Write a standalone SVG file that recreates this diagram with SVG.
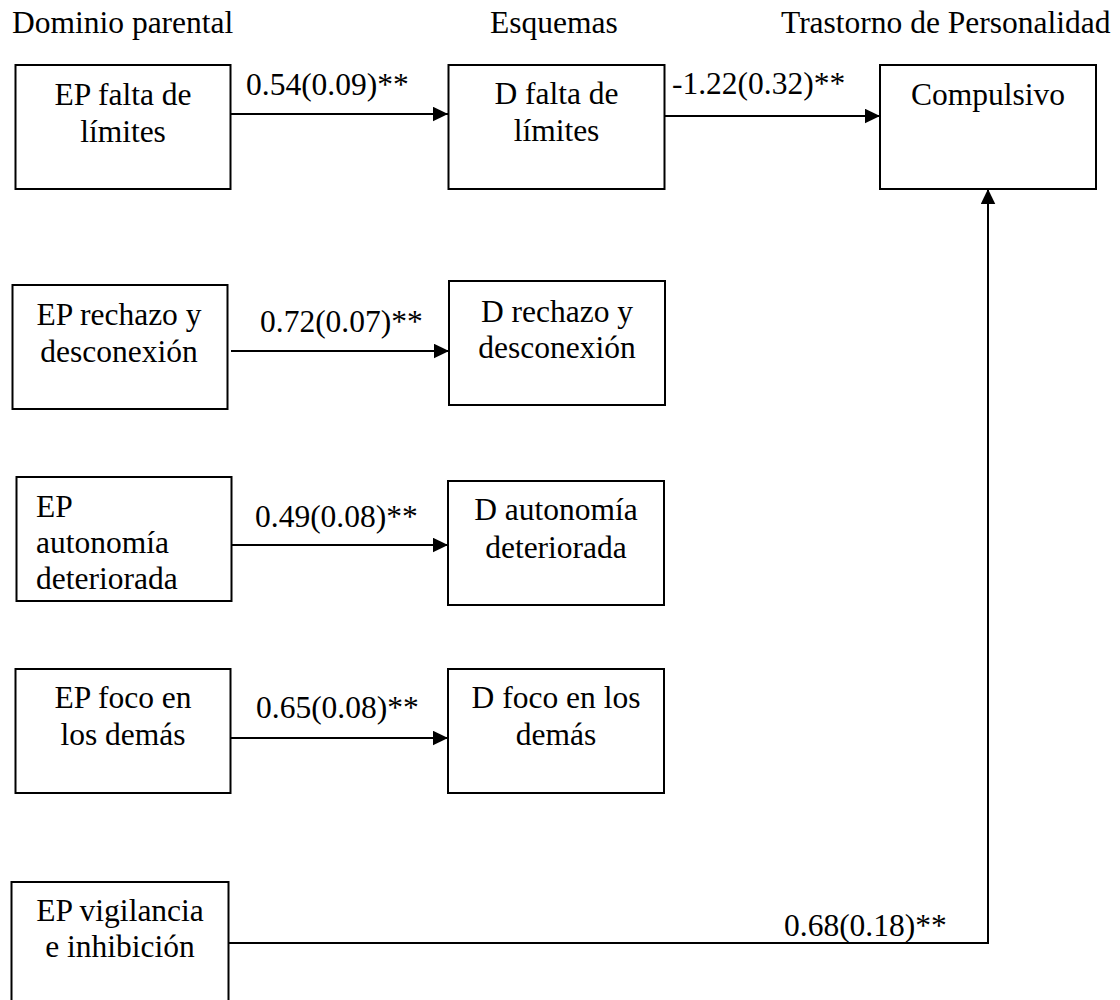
<svg xmlns="http://www.w3.org/2000/svg" width="1120" height="1000" viewBox="0 0 1120 1000">
  <style>
    text { font-family: "Liberation Serif", "Times New Roman", serif; font-size: 31.5px; fill: #000; }
    .c { text-anchor: middle; }
    .box { fill: #fff; stroke: #000; stroke-width: 2; }
    .edge { fill: none; stroke: #000; stroke-width: 2; }
  </style>
  <defs>
    <marker id="arrow" markerUnits="userSpaceOnUse" markerWidth="16" markerHeight="15" refX="15" refY="7.25" orient="auto">
      <path d="M0,0 L15,7.25 L0,14.5 z" fill="#000"/>
    </marker>
  </defs>

  <rect width="1120" height="1000" fill="#fff"/>

  <!-- column headings -->
  <g id="headings">
    <text x="12" y="33">Dominio parental</text>
    <text x="490" y="33">Esquemas</text>
    <text x="781" y="33">Trastorno de Personalidad</text>
  </g>

  <!-- parental domains -->
  <g id="ep-falta-limites">
    <rect class="box" x="15.5" y="65" width="215" height="124"/>
    <text class="c" x="123" y="105">EP falta de</text>
    <text class="c" x="123" y="142">límites</text>
  </g>
  <g id="ep-rechazo">
    <rect class="box" x="12.5" y="285" width="215" height="124"/>
    <text class="c" x="119" y="325">EP rechazo y</text>
    <text class="c" x="119" y="362">desconexión</text>
  </g>
  <g id="ep-autonomia">
    <rect class="box" x="16.5" y="477" width="215" height="124"/>
    <text x="36" y="517">EP</text>
    <text x="36" y="553">autonomía</text>
    <text x="36" y="589">deteriorada</text>
  </g>
  <g id="ep-foco">
    <rect class="box" x="15.5" y="669" width="215" height="124"/>
    <text class="c" x="123" y="708">EP foco en</text>
    <text class="c" x="123" y="745">los demás</text>
  </g>
  <g id="ep-vigilancia">
    <rect class="box" x="11.5" y="882" width="217" height="130"/>
    <text class="c" x="120" y="921">EP vigilancia</text>
    <text class="c" x="120" y="957">e inhibición</text>
  </g>

  <!-- schemas -->
  <g id="d-falta-limites">
    <rect class="box" x="448.5" y="65" width="216" height="124"/>
    <text class="c" x="556.5" y="104">D falta de</text>
    <text class="c" x="556.5" y="141">límites</text>
  </g>
  <g id="d-rechazo">
    <rect class="box" x="449" y="281" width="216" height="124"/>
    <text class="c" x="557" y="322">D rechazo y</text>
    <text class="c" x="557" y="358">desconexión</text>
  </g>
  <g id="d-autonomia">
    <rect class="box" x="448" y="481" width="216" height="124"/>
    <text class="c" x="556" y="520">D autonomía</text>
    <text class="c" x="556" y="558">deteriorada</text>
  </g>
  <g id="d-foco">
    <rect class="box" x="448" y="669" width="216" height="124"/>
    <text class="c" x="556" y="708">D foco en los</text>
    <text class="c" x="556" y="745">demás</text>
  </g>

  <!-- personality disorder -->
  <g id="compulsivo">
    <rect class="box" x="880" y="65" width="216" height="124"/>
    <text class="c" x="988" y="105">Compulsivo</text>
  </g>

  <!-- paths with coefficients -->
  <g id="connectors">
    <line class="edge" x1="231" y1="114" x2="448" y2="114" marker-end="url(#arrow)"/>
    <text x="246" y="95">0.54(0.09)**</text>

    <line class="edge" x1="665" y1="116" x2="880" y2="116" marker-end="url(#arrow)"/>
    <text x="672" y="94">-1.22(0.32)**</text>

    <line class="edge" x1="231" y1="351" x2="449" y2="351" marker-end="url(#arrow)"/>
    <text x="260" y="332">0.72(0.07)**</text>

    <line class="edge" x1="232" y1="545" x2="448" y2="545" marker-end="url(#arrow)"/>
    <text x="255" y="527">0.49(0.08)**</text>

    <line class="edge" x1="231" y1="738" x2="448" y2="738" marker-end="url(#arrow)"/>
    <text x="256" y="718">0.65(0.08)**</text>

    <polyline class="edge" points="229,943 988,943 988,189" marker-end="url(#arrow)"/>
    <text x="784" y="936">0.68(0.18)**</text>
  </g>
</svg>
